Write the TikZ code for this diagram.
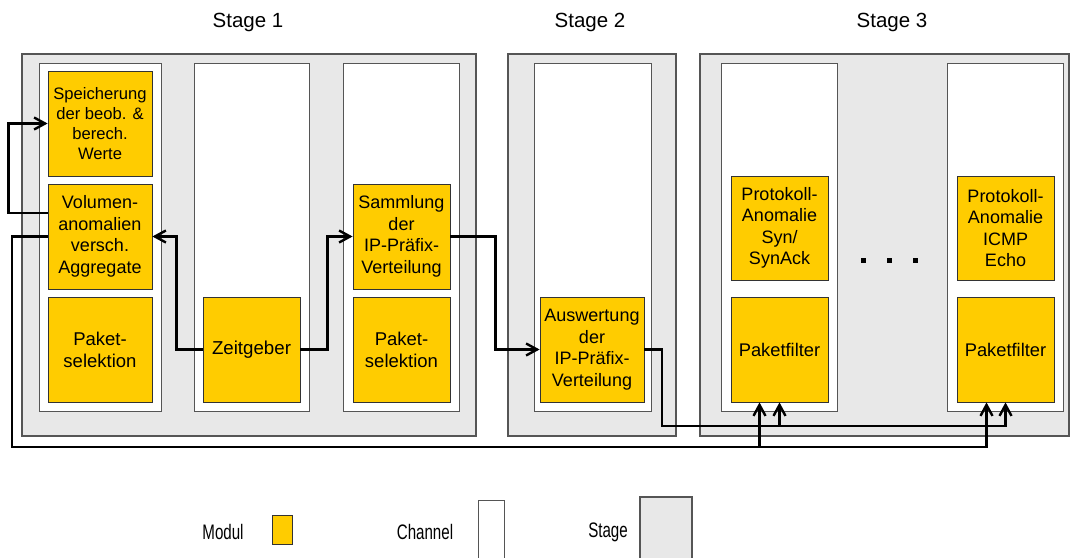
\documentclass[tikz,border=0pt]{standalone}
\usepackage{fontspec}
\setmainfont{Liberation Sans}
\newfontfamily\legfont[FakeStretch=0.72]{Liberation Sans}
\usetikzlibrary{arrows.meta,positioning}
\definecolor{modc}{HTML}{FFCC00}
\definecolor{stagec}{HTML}{E8E8E8}
\definecolor{framec}{HTML}{555555}
\newcommand{\txtfont}{\fontsize{18}{21.5}\selectfont}
\tikzset{
  ar/.style={-{Straight Barb[length=11pt,width=12pt]},line width=2.4pt,black},
  stagebox/.style={draw=framec,line width=1.2pt,fill=stagec,minimum height=382pt,inner sep=0pt},
  chanbox/.style={draw=framec,line width=1pt,fill=white,minimum height=348pt,inner sep=0pt},
  modbox/.style={draw=black!80,line width=0.8pt,fill=modc,minimum height=105pt,minimum width=97pt,align=center,inner sep=1pt,font=\txtfont},
  lbl/.style={font=\fontsize{20.5}{24}\selectfont},
  leg/.style={font=\legfont\fontsize{21}{24}\selectfont}
}

\begin{document}
\begin{tikzpicture}[x=1pt,y=-1pt]
\useasboundingbox (0,0) rectangle (1071,557);
\clip (0,0) rectangle (1071,557);
% stages
\node[stagebox,minimum width=454pt] (st1) at (249,245) {};
\node[stagebox,minimum width=168pt] (st2) at (592,245) {};
\node[stagebox,minimum width=369pt] (st3) at (884.5,245) {};
\node[lbl] (tst1) at (248,22) {Stage 1};
\node[lbl] (tst2) at (590,22) {Stage 2};
\node[lbl] (tst3) at (892,22) {Stage 3};
% channels
\node[chanbox,minimum width=122pt] (ch1) at (100,237) {};
\node[chanbox,minimum width=115pt] (ch2) at (251.5,237) {};
\node[chanbox,minimum width=116pt] (ch3) at (401,237) {};
\node[chanbox,minimum width=117pt] (ch4) at (592.5,237) {};
\node[chanbox,minimum width=116pt] (ch5) at (779,237) {};
\node[chanbox,minimum width=116pt] (ch6) at (1005,237) {};
% modules
\node[modbox,minimum width=104pt,font=\fontsize{16.6}{20}\selectfont] (spe) at (100,123.5) {Speicherung\\der beob. \&\\berech.\\Werte};
\node[modbox,minimum width=104pt] (vol) at (100,236.5) {Volumen-\\anomalien\\versch.\\Aggregate};
\node[modbox,minimum width=104pt,font=\fontsize{18.5}{22}\selectfont] (psel1) at (100,349.5) {Paket-\\selektion};
\node[modbox,font=\fontsize{18.7}{22}\selectfont] (zeit) at (251.5,349.5) {Zeitgeber};
\node[modbox] (samm) at (401.5,236.5) {Sammlung\\der\\IP-Präfix-\\Verteilung};
\node[modbox,font=\fontsize{18.5}{22}\selectfont] (psel2) at (401.5,349.5) {Paket-\\selektion};
\node[modbox,minimum width=104pt] (ausw) at (592,349.5) {Auswertung\\der\\IP-Präfix-\\Verteilung};
\node[modbox,minimum height=104pt] (prot1) at (779.5,228) {Protokoll-\\Anomalie\\Syn/\\SynAck};
\node[modbox,font=\fontsize{18.3}{22}\selectfont] (pf1) at (779.5,349.5) {Paketfilter};
\node[modbox,minimum height=104pt] (prot2) at (1005.5,228) {Protokoll-\\Anomalie\\ICMP\\Echo};
\node[modbox,font=\fontsize{18.3}{22}\selectfont] (pf2) at (1005.5,349.5) {Paketfilter};
\foreach \x in {863,889,915}{\fill (\x-2.5,257.5) rectangle ++(5,5);}
% connections
\coordinate (busa) at (12,447);
\coordinate (busb) at (662,426);
\draw[ar] ([yshift=23.5pt]vol.west) -- ++(-39,0) |- (spe.west);
\draw[ar] (vol.west) -| (busa) -| ([xshift=-20pt]pf1.south);
\draw[ar] (busa) -| ([xshift=-19pt]pf2.south);
\draw[ar] (ausw.east) -| (busb) -| (pf1.south);
\draw[ar] (busb) -| (pf2.south);
\draw[ar] (zeit.west) -- ++(-26,0) |- (vol.east);
\draw[ar] (zeit.east) -- ++(27,0) |- (samm.west);
\draw[ar] (samm.east) -- ++(45,0) |- (ausw.west);
% legend
\node[leg] (lmod) at (223,532) {Modul};
\node[modbox,minimum width=20pt,minimum height=29pt] (kmod) at (282,529.5) {};
\node[leg] (lchan) at (425,532) {Channel};
\node[chanbox,minimum width=26pt,minimum height=70pt] (kchan) at (491,535) {};
\node[leg] (lstage) at (608,532) {Stage};
\node[stagebox,minimum width=52pt,minimum height=73pt] (kstage) at (666,533.5) {};
\end{tikzpicture}
\end{document}
